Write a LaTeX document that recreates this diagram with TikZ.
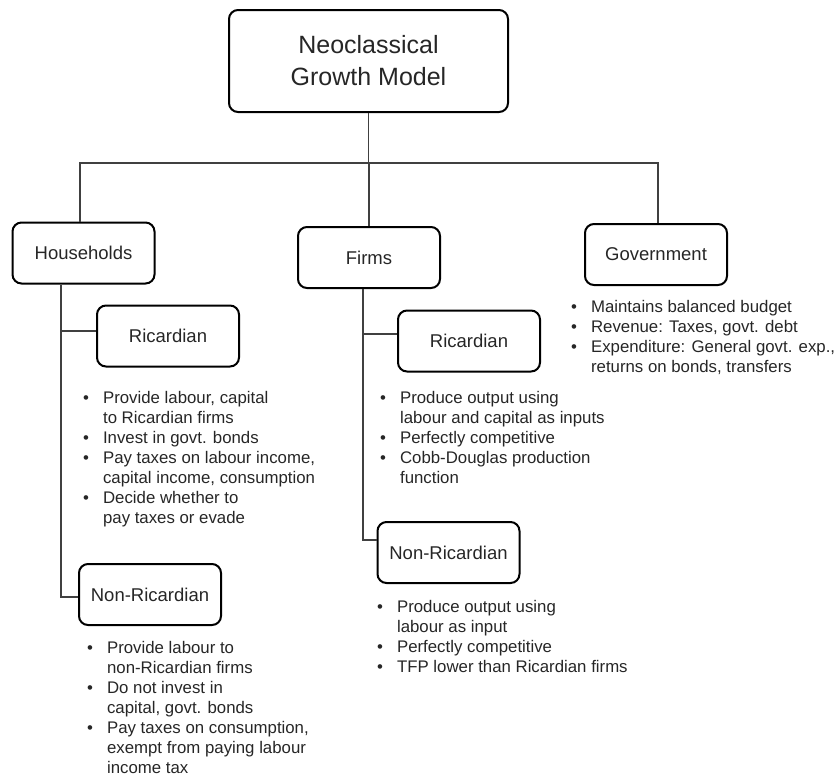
\documentclass[tikz,border=0pt]{standalone}
\usepackage{fontspec}
\setmainfont{Liberation Sans}
\usepackage{tikz}
\usetikzlibrary{positioning}

\newcommand{\pointlist}[1]{\begin{tabular}[t]{@{}l@{\hspace{14pt}}l@{}}#1\end{tabular}}

\begin{document}
\begin{tikzpicture}[x=1pt,y=-1pt,
	box/.style={draw, line width=2pt, rounded corners=9pt, minimum width=142pt, minimum height=61pt, text=black!85, font=\fontsize{18.5}{22}\selectfont},
	link/.style={draw=black!75, line width=1.1pt},
	points/.style={anchor=base west, inner sep=0pt, text=black!85, font=\fontsize{16.8}{20}\selectfont}]
	\useasboundingbox (0,0) rectangle (837,780);

	% the model and the three sectors
	\node[box, minimum width=279pt, minimum height=102pt, align=center, font=\fontsize{25}{32}\selectfont] (model) at (368.5,61) {Neoclassical\\Growth Model};
	\node[box] (hh) at (83.5,253) {Households};
	\node[box] (firms) at (369,257.5) {Firms};
	\node[box] (gov) at (656,254.5) {Government};

	% agent types
	\node[box] (hric) at (168,336) {Ricardian};
	\node[box] (hnon) at (150,594.5) {Non-Ricardian};
	\node[box] (fric) at (469,341) {Ricardian};
	\node[box] (fnon) at (448.5,552.5) {Non-Ricardian};

	\coordinate (busL) at (80,163);
	\coordinate (busR) at (658,163);
	\coordinate (hj1) at (61,331);
	\coordinate (hj2) at (61,597);
	\coordinate (fj1) at (363,334);
	\coordinate (fj2) at (363,540);

	\draw[link] (model) -- (model.south |- busL);
	\draw[link] (hh.north -| busL) -- (busL) -- (busR) -- (gov.north -| busR);
	\draw[link] (firms.north) -- (firms.north |- busL);

	\draw[link] (hh.south -| hj1) -- (hj2) -- (hj2 -| hnon.west);
	\draw[link] (hj1) -- (hj1 -| hric.west);
	\draw[link] (firms.south -| fj1) -- (fj2) -- (fj2 -| fnon.west);
	\draw[link] (fj1) -- (fj1 -| fric.west);

	% what each of them does
	\node[points] (govtext) at (571,312) {\pointlist{
		\textbullet & Maintains balanced budget\\
		\textbullet & Revenue: Taxes, govt. debt\\
		\textbullet & Expenditure: General govt. exp.,\\
		& returns on bonds, transfers}};
	\node[points] (hrictext) at (83,403) {\pointlist{
		\textbullet & Provide labour, capital\\
		& to Ricardian firms\\
		\textbullet & Invest in govt. bonds\\
		\textbullet & Pay taxes on labour income,\\
		& capital income, consumption\\
		\textbullet & Decide whether to\\
		& pay taxes or evade}};
	\node[points] (hnontext) at (87,653) {\pointlist{
		\textbullet & Provide labour to\\
		& non-Ricardian firms\\
		\textbullet & Do not invest in\\
		& capital, govt. bonds\\
		\textbullet & Pay taxes on consumption,\\
		& exempt from paying labour\\
		& income tax}};
	\node[points] (frictext) at (380,403) {\pointlist{
		\textbullet & Produce output using\\
		& labour and capital as inputs\\
		\textbullet & Perfectly competitive\\
		\textbullet & Cobb-Douglas production\\
		& function}};
	\node[points] (fnontext) at (377,612) {\pointlist{
		\textbullet & Produce output using\\
		& labour as input\\
		\textbullet & Perfectly competitive\\
		\textbullet & TFP lower than Ricardian firms}};
\end{tikzpicture}
\end{document}
